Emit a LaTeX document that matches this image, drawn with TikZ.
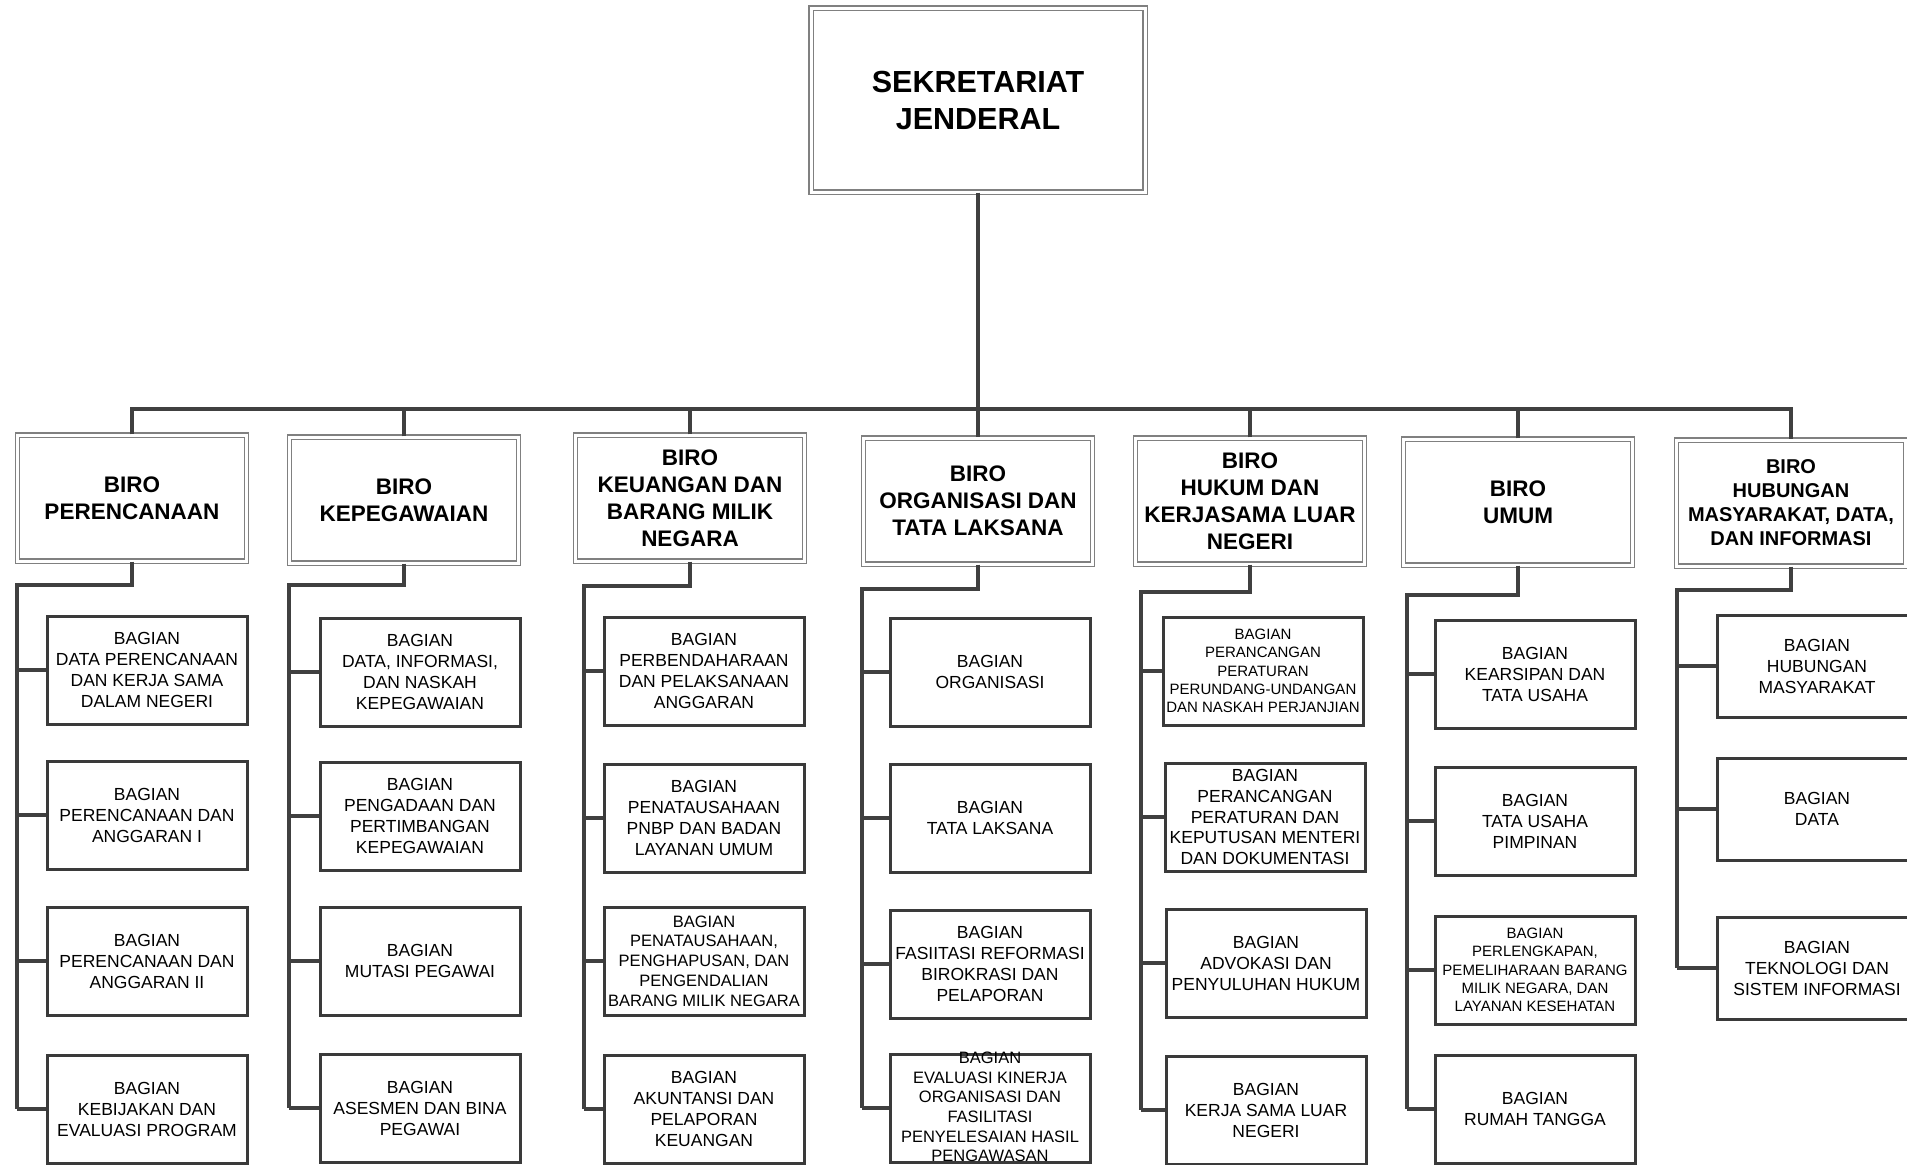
\documentclass[tikz,border=0pt]{standalone}
\usepackage{fontspec}
\setmainfont{Liberation Sans}
\usepackage{xcolor}
\usepackage{tikz}

\definecolor{linegray}{HTML}{404040}
\definecolor{boxgray}{HTML}{3A3A3A}
\definecolor{dblgray}{HTML}{808080}

\begin{document}
\begin{tikzpicture}[x=1pt,y=-1pt]
\tikzstyle{every node}+=[inner sep=1pt, align=center]
\tikzstyle{head}=[draw=dblgray, double=white, double distance=3pt, line width=1.2pt, minimum width=334pt, minimum height=184pt, font=\fontsize{30.5}{37}\selectfont\bfseries]
\tikzstyle{biro}=[draw=dblgray, double=white, double distance=3pt, line width=1.2pt, minimum width=229pt, minimum height=126pt, font=\fontsize{22.5}{27}\selectfont\bfseries]
\tikzstyle{bagian}=[draw=boxgray, line width=3pt, minimum width=200pt, minimum height=108pt, font=\fontsize{17.5}{21}\selectfont]
\tikzstyle{conn}=[draw=linegray, line width=4pt, line join=miter]
\useasboundingbox (0,0) rectangle (1907,1165);
\fill[white] (0,0) rectangle (1907,1165);
\node[head] (sek) at (978,100) {SEKRETARIAT\\JENDERAL};
\node[biro] (pre) at (132,498) {BIRO\\PERENCANAAN};
\node[biro] (kep) at (404,500) {BIRO\\KEPEGAWAIAN};
\node[biro] (keu) at (690,498) {BIRO\\KEUANGAN DAN\\BARANG MILIK\\NEGARA};
\node[biro] (org) at (978,501) {BIRO\\ORGANISASI DAN\\TATA LAKSANA};
\node[biro] (huk) at (1250,501) {BIRO\\HUKUM DAN\\KERJASAMA LUAR\\NEGERI};
\node[biro] (umu) at (1518,502) {BIRO\\UMUM};
\node[biro, font=\fontsize{20}{24}\selectfont\bfseries] (hms) at (1791,503) {BIRO\\HUBUNGAN\\MASYARAKAT, DATA,\\DAN INFORMASI};
\node[bagian] (pr1) at (147,670) {BAGIAN\\DATA PERENCANAAN\\DAN KERJA SAMA\\DALAM NEGERI};
\node[bagian] (pr2) at (147,815) {BAGIAN\\PERENCANAAN DAN\\ANGGARAN I};
\node[bagian] (pr3) at (147,961) {BAGIAN\\PERENCANAAN DAN\\ANGGARAN II};
\node[bagian] (pr4) at (147,1109) {BAGIAN\\KEBIJAKAN DAN\\EVALUASI PROGRAM};
\node[bagian] (kp1) at (420,672) {BAGIAN\\DATA, INFORMASI,\\DAN NASKAH\\KEPEGAWAIAN};
\node[bagian] (kp2) at (420,816) {BAGIAN\\PENGADAAN DAN\\PERTIMBANGAN\\KEPEGAWAIAN};
\node[bagian] (kp3) at (420,961) {BAGIAN\\MUTASI PEGAWAI};
\node[bagian] (kp4) at (420,1108) {BAGIAN\\ASESMEN DAN BINA\\PEGAWAI};
\node[bagian] (ku1) at (704,671) {BAGIAN\\PERBENDAHARAAN\\DAN PELAKSANAAN\\ANGGARAN};
\node[bagian] (ku2) at (704,818) {BAGIAN\\PENATAUSAHAAN\\PNBP DAN BADAN\\LAYANAN UMUM};
\node[bagian, font=\fontsize{16.5}{19.8}\selectfont] (ku3) at (704,961) {BAGIAN\\PENATAUSAHAAN,\\PENGHAPUSAN, DAN\\PENGENDALIAN\\BARANG MILIK NEGARA};
\node[bagian] (ku4) at (704,1109) {BAGIAN\\AKUNTANSI DAN\\PELAPORAN\\KEUANGAN};
\node[bagian] (or1) at (990,672) {BAGIAN\\ORGANISASI};
\node[bagian] (or2) at (990,818) {BAGIAN\\TATA LAKSANA};
\node[bagian] (or3) at (990,964) {BAGIAN\\FASIITASI REFORMASI\\BIROKRASI DAN\\PELAPORAN};
\node[bagian] (or4) at (990,1108) {};
\node[font=\fontsize{16.5}{19.7}\selectfont] (or4t) at (990,1107) {BAGIAN\\EVALUASI KINERJA\\ORGANISASI DAN\\FASILITASI\\PENYELESAIAN HASIL\\PENGAWASAN};
\node[bagian, font=\fontsize{15}{18.2}\selectfont] (hk1) at (1263,671) {BAGIAN\\PERANCANGAN\\PERATURAN\\PERUNDANG-UNDANGAN\\DAN NASKAH PERJANJIAN};
\node[bagian, font=\fontsize{17.5}{20.7}\selectfont] (hk2) at (1265,817) {BAGIAN\\PERANCANGAN\\PERATURAN DAN\\KEPUTUSAN MENTERI\\DAN DOKUMENTASI};
\node[bagian] (hk3) at (1266,963) {BAGIAN\\ADVOKASI DAN\\PENYULUHAN HUKUM};
\node[bagian] (hk4) at (1266,1110) {BAGIAN\\KERJA SAMA LUAR\\NEGERI};
\node[bagian] (um1) at (1535,674) {BAGIAN\\KEARSIPAN DAN\\TATA USAHA};
\node[bagian] (um2) at (1535,821) {BAGIAN\\TATA USAHA\\PIMPINAN};
\node[bagian, font=\fontsize{15}{18.2}\selectfont] (um3) at (1535,970) {BAGIAN\\PERLENGKAPAN,\\PEMELIHARAAN BARANG\\MILIK NEGARA, DAN\\LAYANAN KESEHATAN};
\node[bagian] (um4) at (1535,1109) {BAGIAN\\RUMAH TANGGA};
\node[bagian, minimum height=102pt] (hm1) at (1817,666) {BAGIAN\\HUBUNGAN\\MASYARAKAT};
\node[bagian, minimum height=102pt] (hm2) at (1817,809) {BAGIAN\\DATA};
\node[bagian, minimum height=102pt] (hm3) at (1817,968) {BAGIAN\\TEKNOLOGI DAN\\SISTEM INFORMASI};
\coordinate (bus) at (978,409);
\coordinate (sp1) at (17,585);
\coordinate (sp2) at (289,585);
\coordinate (sp3) at (584,586);
\coordinate (sp4) at (862,589);
\coordinate (sp5) at (1141,592);
\coordinate (sp6) at (1407,595);
\coordinate (sp7) at (1677,590);
\draw[conn] (sek.south) -- (org.north);
\draw[conn] (pre.north) |- (bus) -| (hms.north);
\draw[conn] (kep.north) -- (kep.north |- bus);
\draw[conn] (keu.north) -- (keu.north |- bus);
\draw[conn] (huk.north) -- (huk.north |- bus);
\draw[conn] (umu.north) -- (umu.north |- bus);
\draw[conn] (pre.south) |- (sp1) -- (sp1 |- pr4.west);
\draw[conn] (sp1 |- pr1.west) -- (pr1.west);
\draw[conn] (sp1 |- pr2.west) -- (pr2.west);
\draw[conn] (sp1 |- pr3.west) -- (pr3.west);
\draw[conn] (sp1 |- pr4.west) -- (pr4.west);
\draw[conn] (kep.south) |- (sp2) -- (sp2 |- kp4.west);
\draw[conn] (sp2 |- kp1.west) -- (kp1.west);
\draw[conn] (sp2 |- kp2.west) -- (kp2.west);
\draw[conn] (sp2 |- kp3.west) -- (kp3.west);
\draw[conn] (sp2 |- kp4.west) -- (kp4.west);
\draw[conn] (keu.south) |- (sp3) -- (sp3 |- ku4.west);
\draw[conn] (sp3 |- ku1.west) -- (ku1.west);
\draw[conn] (sp3 |- ku2.west) -- (ku2.west);
\draw[conn] (sp3 |- ku3.west) -- (ku3.west);
\draw[conn] (sp3 |- ku4.west) -- (ku4.west);
\draw[conn] (org.south) |- (sp4) -- (sp4 |- or4.west);
\draw[conn] (sp4 |- or1.west) -- (or1.west);
\draw[conn] (sp4 |- or2.west) -- (or2.west);
\draw[conn] (sp4 |- or3.west) -- (or3.west);
\draw[conn] (sp4 |- or4.west) -- (or4.west);
\draw[conn] (huk.south) |- (sp5) -- (sp5 |- hk4.west);
\draw[conn] (sp5 |- hk1.west) -- (hk1.west);
\draw[conn] (sp5 |- hk2.west) -- (hk2.west);
\draw[conn] (sp5 |- hk3.west) -- (hk3.west);
\draw[conn] (sp5 |- hk4.west) -- (hk4.west);
\draw[conn] (umu.south) |- (sp6) -- (sp6 |- um4.west);
\draw[conn] (sp6 |- um1.west) -- (um1.west);
\draw[conn] (sp6 |- um2.west) -- (um2.west);
\draw[conn] (sp6 |- um3.west) -- (um3.west);
\draw[conn] (sp6 |- um4.west) -- (um4.west);
\draw[conn] (hms.south) |- (sp7) -- (sp7 |- hm3.west);
\draw[conn] (sp7 |- hm1.west) -- (hm1.west);
\draw[conn] (sp7 |- hm2.west) -- (hm2.west);
\draw[conn] (sp7 |- hm3.west) -- (hm3.west);
\end{tikzpicture}
\end{document}
